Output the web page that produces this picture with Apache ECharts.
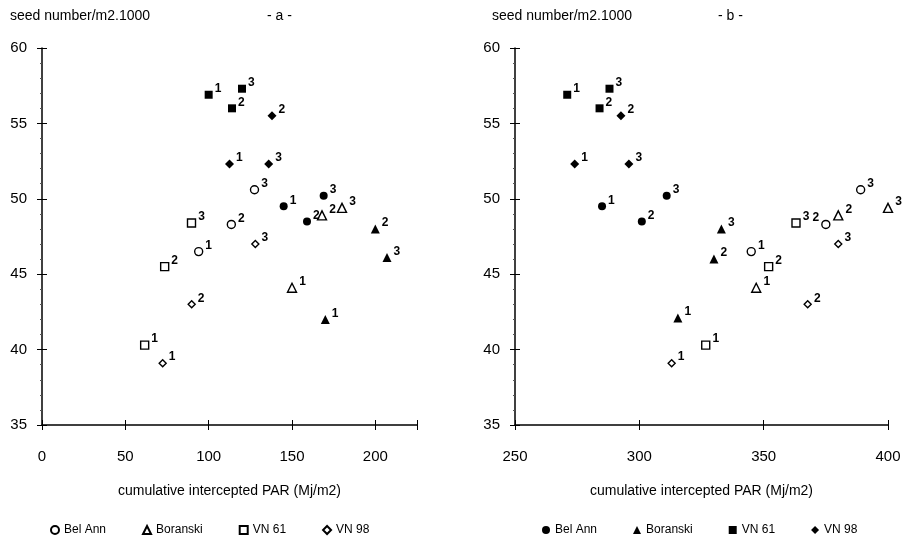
<!DOCTYPE html>
<html>
<head>
<meta charset="utf-8">
<script src="https://cdn.jsdelivr.net/npm/echarts@6/dist/echarts.min.js"></script>
<style>
  html, body { margin: 0; padding: 0; background: #fff; }
  #chart { width: 908px; height: 541px; }
</style>
</head>
<body>
<div id="chart"></div>
<script>
const cultivars = ['Bel Ann', 'Boranski', 'VN 61', 'VN 98']
const sowingLabels = ['1', '2', '3']

// seed number/m2.1000, sowing dates 1,2,3
const seedBelAnn91 = [49.5, 48.5, 50.2]
const seedBoranski91 = [42.0, 48.0, 46.1]
const seedBoranski91b = [42.1, 46.0, 48.0]
const seedVN61_91 = [56.9, 56.0, 57.3]
const seedVN98_91 = [52.3, 55.5, 52.3]
const seedBelAnn92 = [46.5, 48.3, 50.6]
const seedBoranski92 = [44.1, 48.9, 49.4]
const seedVN61_92 = [40.3, 45.5, 48.4]
const seedVN98_92 = [39.1, 43.0, 47.0]

// cumulative intercepted PAR, panel a
const parA_BelAnn91 = [145, 159, 169]
const parA_Boranski91 = [170, 200, 207]
const parA_VN61_91 = [100, 114, 120]
const parA_VN98_91 = [112.5, 138, 136]
const parA_BelAnn92 = [94, 113.6, 127.5]
const parA_Boranski92 = [150, 168, 180]
const parA_VN61_92 = [61.6, 73.6, 89.7]
const parA_VN98_92 = [72.4, 89.8, 128]

// cumulative intercepted PAR, panel b
const parB_BelAnn91 = [285, 301, 311]
const parB_Boranski91 = [315.5, 330, 333]
const parB_VN61_91 = [271, 284, 288]
const parB_VN98_91 = [274, 292.6, 295.8]
const parB_BelAnn92 = [345, 375, 389]
const parB_Boranski92 = [347, 380, 400]
const parB_VN61_92 = [326.7, 352, 363]
const parB_VN98_92 = [313, 367.7, 380]

const yearNotesA = [['1991', 192, 54.4], ['1992', 36.5, 43.0]]
const yearNotesB = [['1991', 320, 54.9], ['1992', 351.6, 40.4]]

const symbolOf = { 'Bel Ann': 'circle', 'Boranski': 'triangle', 'VN 61': 'rect', 'VN 98': 'diamond' }
const sizeOf = { 'Bel Ann': 8, 'Boranski': 9, 'VN 61': 8, 'VN 98': 9 }
// labels drawn on the left side of the point (index in series)
const leftLabels = { 'b|Bel Ann|1992': [1] }
const FONT = '"Liberation Sans", Arial, sans-serif'

function pts(key, xs, ys) {
  const lefts = leftLabels[key] || []
  return xs.map((x, i) => {
    const p = { value: [x, ys[i]], name: sowingLabels[i] }
    if (lefts.includes(i)) p.label = { position: 'left', offset: [0, -7] }
    return p
  })
}

function scatter(panel, idx, cultivar, year, xs, ys) {
  const open = year === 1992
  const key = panel + '|' + cultivar + '|' + year
  return {
    name: key,
    type: 'scatter',
    xAxisIndex: idx * 2,
    yAxisIndex: idx * 2,
    symbol: symbolOf[cultivar],
    symbolSize: open && cultivar === 'VN 98' ? 7 : sizeOf[cultivar],
    itemStyle: open
      ? { color: '#fff', borderColor: '#000', borderWidth: 1.4, opacity: 1 }
      : { color: '#000', borderColor: '#000', borderWidth: 0, opacity: 1 },
    label: {
      show: true,
      position: 'right',
      distance: 2,
      offset: [0, -6],
      formatter: '{b}',
      color: '#000',
      fontFamily: FONT,
      fontWeight: 'bold',
      fontSize: 12
    },
    data: pts(key, xs, ys)
  }
}

function notes(idx, list) {
  return {
    name: 'notes' + idx,
    type: 'scatter',
    xAxisIndex: idx * 2,
    yAxisIndex: idx * 2,
    symbol: 'none',
    symbolSize: 0,
    label: {
      show: true,
      position: 'inside',
      formatter: '{b}',
      color: '#000',
      fontFamily: FONT,
      fontWeight: 'bold',
      fontSize: 15
    },
    data: list.map(n => ({ value: [n[1], n[2]], name: n[0] }))
  }
}

function axesFor(grid, min, max) {
  const labelFmt = v => (v % 50 === 0 ? String(v) : '')
  const x = [
    {
      type: 'value', gridIndex: grid, min: min, max: max, interval: 50,
      position: 'bottom',
      axisLine: { show: true, lineStyle: { color: '#000', width: 1.5 } },
      axisTick: { show: true, length: 5, lineStyle: { color: '#000' } },
      axisLabel: { color: '#000', fontFamily: FONT, fontSize: 15, margin: 24, formatter: labelFmt },
      splitLine: { show: false },
      name: 'cumulative intercepted PAR (Mj/m2)',
      nameLocation: 'middle',
      nameGap: 59,
      nameTextStyle: { color: '#000', fontFamily: FONT, fontSize: 14 }
    },
    {
      type: 'value', gridIndex: grid, min: min, max: max, interval: 50,
      position: 'bottom',
      axisLine: { show: false },
      axisTick: { show: true, inside: true, length: 5, lineStyle: { color: '#000' } },
      axisLabel: { show: false },
      splitLine: { show: false }
    }
  ]
  const y = [
    {
      type: 'value', gridIndex: grid, min: 35, max: 60, interval: 5,
      position: 'left',
      axisLine: { show: true, lineStyle: { color: '#000', width: 1.5 } },
      axisTick: { show: true, length: 5, lineStyle: { color: '#000' } },
      minorTick: { show: true, splitNumber: 5, length: 2, lineStyle: { color: '#555' } },
      axisLabel: { color: '#000', fontFamily: FONT, fontSize: 15, margin: 15 },
      splitLine: { show: false }
    },
    {
      type: 'value', gridIndex: grid, min: 35, max: 60, interval: 5,
      position: 'left',
      axisLine: { show: false },
      axisTick: { show: true, inside: true, length: 5, lineStyle: { color: '#000' } },
      axisLabel: { show: false },
      splitLine: { show: false }
    }
  ]
  return { x, y }
}

const axA = axesFor(0, 0, 225)
const axB = axesFor(1, 250, 400)

const series = [
  scatter('a', 0, 'Bel Ann', 1992, parA_BelAnn92, seedBelAnn92),
  scatter('a', 0, 'Boranski', 1992, parA_Boranski92, seedBoranski92),
  scatter('a', 0, 'VN 61', 1992, parA_VN61_92, seedVN61_92),
  scatter('a', 0, 'VN 98', 1992, parA_VN98_92, seedVN98_92),
  scatter('a', 0, 'Bel Ann', 1991, parA_BelAnn91, seedBelAnn91),
  scatter('a', 0, 'Boranski', 1991, parA_Boranski91, seedBoranski91),
  scatter('a', 0, 'VN 61', 1991, parA_VN61_91, seedVN61_91),
  scatter('a', 0, 'VN 98', 1991, parA_VN98_91, seedVN98_91),
  scatter('b', 1, 'Bel Ann', 1991, parB_BelAnn91, seedBelAnn91),
  scatter('b', 1, 'Boranski', 1991, parB_Boranski91, seedBoranski91b),
  scatter('b', 1, 'VN 61', 1991, parB_VN61_91, seedVN61_91),
  scatter('b', 1, 'VN 98', 1991, parB_VN98_91, seedVN98_91),
  scatter('b', 1, 'Bel Ann', 1992, parB_BelAnn92, seedBelAnn92),
  scatter('b', 1, 'Boranski', 1992, parB_Boranski92, seedBoranski92),
  scatter('b', 1, 'VN 61', 1992, parB_VN61_92, seedVN61_92),
  scatter('b', 1, 'VN 98', 1992, parB_VN98_92, seedVN98_92),
  notes(0, yearNotesA),
  notes(1, yearNotesB)
]

const titleStyle = { color: '#000', fontFamily: FONT, fontSize: 14, fontWeight: 'normal' }
const legendBase = {
  top: 519,
  itemWidth: 8,
  itemHeight: 8,
  itemGap: 36,
  textStyle: { color: '#000', fontFamily: FONT, fontSize: 12 },
  formatter: name => name.split('|')[1]
}

const chart = echarts.init(document.getElementById('chart'))
chart.setOption({
  animation: false,
  backgroundColor: '#fff',
  title: [
    { text: 'seed number/m2.1000', left: 5, top: 4, textStyle: titleStyle },
    { text: '- a -', left: 262, top: 4, textStyle: titleStyle },
    { text: 'seed number/m2.1000', left: 487, top: 4, textStyle: titleStyle },
    { text: '- b -', left: 713, top: 4, textStyle: titleStyle }
  ],
  legend: [
    Object.assign({ left: 45, data: cultivars.map(c => 'a|' + c + '|1992') }, legendBase),
    Object.assign({ left: 537, data: cultivars.map(c => 'b|' + c + '|1991') }, legendBase)
  ],
  grid: [
    { left: 42, right: 491, top: 48, bottom: 116 },
    { left: 515, right: 20, top: 48, bottom: 116 }
  ],
  xAxis: axA.x.concat(axB.x),
  yAxis: axA.y.concat(axB.y),
  series: series
})
</script>
</body>
</html>
